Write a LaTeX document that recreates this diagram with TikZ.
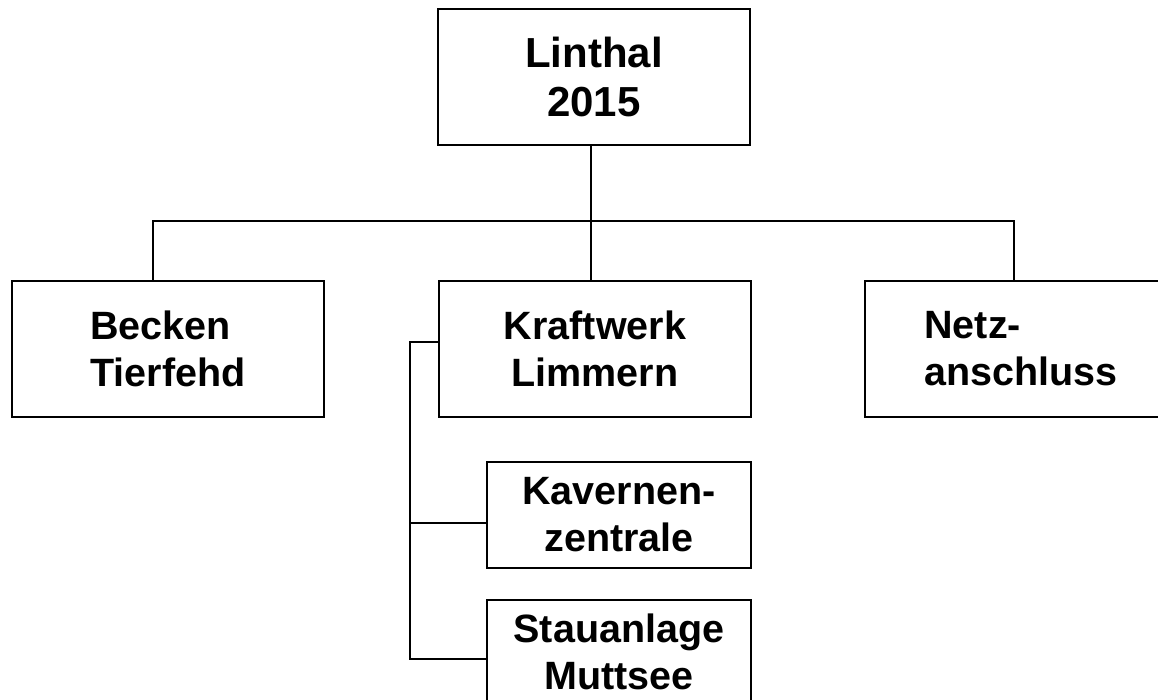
\documentclass[tikz,border=0pt]{standalone}
\usepackage{fontspec}
\setmainfont{Liberation Sans}
\begin{document}
\begin{tikzpicture}[x=1pt,y=1pt,
  box/.style={draw=black, line width=1.6pt, inner sep=0pt, font=\bfseries\fontsize{39.5}{47}\selectfont},
  topbox/.style={box, minimum width=312pt, minimum height=136pt, align=center, font=\bfseries\fontsize{42}{49}\selectfont},
  mainbox/.style={box, minimum width=312pt, minimum height=136pt},
  subbox/.style={box, minimum width=264pt},
  link/.style={draw=black, line width=1.6pt}]
\useasboundingbox (0,0) rectangle (1158,-700);
\clip (0,0) rectangle (1158,-700);
\node[topbox] (top) at (594,-77) {Linthal\\2015};
\node[mainbox, align=left] (bk) at (168,-349) {Becken\\Tierfehd};
\node[mainbox, align=center] (kw) at (595,-349) {Kraftwerk\\Limmern};
\node[mainbox, align=left] (nz) at (1021,-349) {Netz-\\anschluss};
\node[subbox, minimum height=106pt, align=center] (kv) at (619,-515) {Kavernen-\\zentrale};
\node[subbox, minimum height=104pt, align=center] (st) at (619,-652) {Stauanlage\\Muttsee};
\coordinate (bus) at (591,-221);
\coordinate (side) at (410,-342);
\draw[link] ([xshift=-3pt]top.south) -- ([xshift=-4pt]kw.north);
\draw[link] ([xshift=-15pt]bk.north) |- (bus) -| ([xshift=-7pt]nz.north);
\draw[link] ([yshift=7pt]kw.west) -- (side) |- ([yshift=-7pt]st.west);
\draw[link] (side |- kv.west) ++(0,-8) -- ([yshift=-8pt]kv.west);
\end{tikzpicture}
\end{document}
